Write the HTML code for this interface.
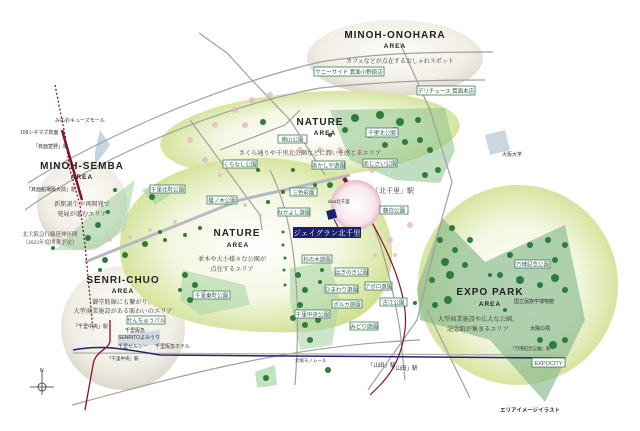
<!DOCTYPE html>
<html><head><meta charset="utf-8"><style>
html,body{margin:0;padding:0;background:#fff}
svg{display:block}
text{font-family:"Liberation Sans","Noto Sans CJK JP",sans-serif}
.s{font-family:"Liberation Serif","Noto Serif CJK SC","Noto Sans CJK JP",serif;fill:#3a3030}
.t{font-family:"Liberation Sans",sans-serif;font-weight:bold;fill:#222;letter-spacing:1px}
.lb rect{fill:#fff;stroke:#3c7a5a;stroke-width:0.8}
.lb text{font-size:5.5px;fill:#2d5a45;text-anchor:middle}
.tr{fill:#2f7a3c}
.pk{fill:#e8b8c4;opacity:.8}
.rd{fill:none;stroke:#a0a0a0;stroke-width:1.2}
</style></head><body>
<svg width="640" height="431" viewBox="0 0 640 431" xmlns="http://www.w3.org/2000/svg">
<defs>
<radialGradient id="gw" cx="50%" cy="40%" r="60%"><stop offset="0" stop-color="#fdfcf8"/><stop offset=".7" stop-color="#f1eee6"/><stop offset="1" stop-color="#ddd8cc"/></radialGradient>
<radialGradient id="gg" cx="50%" cy="50%" r="55%"><stop offset="0" stop-color="#ffffff"/><stop offset=".55" stop-color="#f3f7e2"/><stop offset="1" stop-color="#cfe08e"/></radialGradient>
<radialGradient id="gp" cx="50%" cy="50%" r="55%"><stop offset="0" stop-color="#fff"/><stop offset=".7" stop-color="#f8e6ec"/><stop offset="1" stop-color="#dca6b8"/></radialGradient>
</defs>

<ellipse cx="395" cy="58" rx="88" ry="38" fill="url(#gw)"/>
<ellipse cx="82" cy="205" rx="45" ry="45" fill="url(#gw)"/>
<ellipse cx="123" cy="328" rx="62" ry="62" fill="url(#gw)"/>
<ellipse cx="310" cy="135" rx="150" ry="43" transform="rotate(-4 310 135)" fill="url(#gg)"/>
<path d="M120,250 C118,190 180,160 250,158 C330,156 390,190 392,250 C394,300 360,330 300,332 C220,335 122,320 120,250Z" fill="url(#gg)"/>
<circle cx="518" cy="285" r="100" fill="url(#gg)"/>

<polygon points="330,110 445,108 455,150 440,183 395,180 350,160" fill="#8cc28a" opacity=".55"/>
<polygon points="442,218 485,262 565,225 585,320 545,402 490,340 420,320 417,288" fill="#86b98a" opacity=".65"/>
<polygon points="290,268 330,262 340,300 332,345 300,350 290,300" fill="#a9d5a6" opacity=".6"/>
<polygon points="183,270 245,285 250,305 200,315 180,300" fill="#a9d5a6" opacity=".6"/>
<polygon points="115,195 135,180 125,230 95,250 55,250 90,215" fill="#a9d5a6" opacity=".6"/>
<polygon points="142,190 158,183 170,195 155,205" fill="#a9d5a6" opacity=".7"/>
<polygon points="255,372 275,365 277,385 257,388" fill="#a9d5a6" opacity=".7"/>
<polygon points="95,152 100,130 110,145 95,165" fill="#b8c8d8" opacity=".8"/>
<polygon points="485,135 505,130 510,150 490,155" fill="#c0ccd8" opacity=".8"/>
<polygon points="118,335 160,330 160,345 118,345" fill="#c8d4e0" opacity=".8"/>

<path class="rd" d="M28,183 C80,150 200,90 320,62 C380,52 450,52 493,52"/>
<path class="rd" d="M25,210 C80,170 200,110 320,88 C400,80 450,80 485,80"/>
<path class="rd" d="M199,33 L227,53 L250,78 L290,120 L325,175"/>
<path class="rd" d="M400,43 L430,110 L452,182 L442,218 L417,320 L368,390"/>
<path class="rd" d="M427,310 L470,398"/>
<path class="rd" d="M190,120 L260,215 L262,230"/>
<path class="rd" d="M220,150 L285,125 L300,110"/>
<path class="rd" d="M72,405 C200,370 300,345 420,340"/>
<path class="rd" d="M270,170 C300,230 300,320 295,385"/>
<path class="rd" d="M355,185 C375,220 390,270 400,330 L405,380"/>
<path d="M85,262 L240,200 L350,175" stroke="#b8b8c4" stroke-width="3" fill="none"/>
<path d="M73,353 L565,355" stroke="#b0b0b0" stroke-width="1.2"/>
<path d="M73,350 C100,345 120,348 160,355 L565,358" stroke="#24246e" stroke-width="1.5" fill="none"/>
<path d="M55,85 L65,135 L70,170 L80,205 L85,245 L93,330" stroke="#8a1030" stroke-width="1.3" stroke-dasharray="2 2" fill="none"/>
<path d="M62,130 L82,200" stroke="#8a1030" stroke-width="2.5"/>
<path d="M110,320 L110,340 C110,350 95,350 93,365 L85,410" stroke="#8a1030" stroke-width="1.3" fill="none"/>
<path d="M345,180 C380,230 410,290 405,330 C400,370 380,385 370,395" stroke="#8a1030" stroke-width="1.2" fill="none"/>
<path d="M344,178 L354,195" stroke="#8a1030" stroke-width="4"/>

<circle cx="356" cy="205" r="25" fill="url(#gp)"/>

<g class="tr">
<circle cx="355" cy="118" r="4"/><circle cx="380" cy="115" r="4"/><circle cx="400" cy="122" r="4"/><circle cx="395" cy="130" r="3"/><circle cx="405" cy="142" r="3"/><circle cx="420" cy="140" r="3"/><circle cx="430" cy="150" r="3"/><circle cx="425" cy="175" r="3"/><circle cx="438" cy="170" r="3"/><circle cx="345" cy="130" r="3"/><circle cx="370" cy="135" r="3"/><circle cx="385" cy="145" r="3"/><circle cx="418" cy="120" r="3"/><circle cx="330" cy="135" r="2"/>
<circle cx="445" cy="262" r="4"/><circle cx="450" cy="275" r="4"/><circle cx="440" cy="240" r="3"/><circle cx="455" cy="250" r="3"/><circle cx="465" cy="265" r="3"/><circle cx="432" cy="280" r="3"/><circle cx="470" cy="240" r="3"/><circle cx="452" cy="228" r="3"/><circle cx="448" cy="300" r="4"/><circle cx="435" cy="305" r="3"/><circle cx="500" cy="275" r="3"/><circle cx="520" cy="280" r="4"/><circle cx="540" cy="285" r="3"/><circle cx="555" cy="278" r="4"/><circle cx="565" cy="290" r="3"/><circle cx="555" cy="260" r="3"/><circle cx="565" cy="245" r="3"/><circle cx="510" cy="255" r="3"/><circle cx="530" cy="245" r="3"/><circle cx="548" cy="240" r="3"/><circle cx="553" cy="345" r="4"/><circle cx="540" cy="340" r="3"/><circle cx="565" cy="340" r="3"/><circle cx="490" cy="275" r="2"/><circle cx="505" cy="310" r="2"/>
<circle cx="298" cy="275" r="3"/><circle cx="305" cy="290" r="3"/><circle cx="300" cy="305" r="3"/><circle cx="305" cy="325" r="3"/><circle cx="318" cy="320" r="3"/><circle cx="310" cy="340" r="3"/><circle cx="293" cy="318" r="3"/><circle cx="322" cy="270" r="2"/><circle cx="320" cy="282" r="2"/>
<circle cx="185" cy="275" r="3"/><circle cx="195" cy="285" r="3"/><circle cx="190" cy="300" r="3"/><circle cx="205" cy="293" r="3"/><circle cx="220" cy="296" r="3"/><circle cx="180" cy="290" r="2"/>
<circle cx="152" cy="197" r="3"/><circle cx="88" cy="238" r="3"/><circle cx="98" cy="225" r="3"/><circle cx="108" cy="212" r="2"/><circle cx="115" cy="190" r="2"/><circle cx="53" cy="248" r="2"/>
<circle cx="105" cy="260" r="3"/><circle cx="125" cy="255" r="3"/><circle cx="145" cy="244" r="3"/><circle cx="165" cy="240" r="2"/><circle cx="185" cy="235" r="2"/><circle cx="200" cy="228" r="2"/><circle cx="160" cy="232" r="2"/><circle cx="100" cy="270" r="2"/>
<circle cx="263" cy="122" r="3"/><circle cx="258" cy="170" r="2"/><circle cx="283" cy="192" r="2"/><circle cx="268" cy="202" r="2"/><circle cx="293" cy="170" r="2"/><circle cx="315" cy="185" r="2"/><circle cx="330" cy="185" r="3"/>
<circle cx="283" cy="232" r="1.5"/><circle cx="283" cy="245" r="1.5"/><circle cx="285" cy="258" r="1.5"/><circle cx="284" cy="270" r="1.5"/><circle cx="285" cy="285" r="1.5"/>
<circle cx="266" cy="378" r="3"/><circle cx="328" cy="370" r="3"/><circle cx="415" cy="303" r="2"/>
</g>
<g class="pk">
<circle cx="215" cy="125" r="3"/><circle cx="235" cy="110" r="3"/><circle cx="252" cy="100" r="3"/><circle cx="270" cy="95" r="3"/><circle cx="245" cy="125" r="3"/><circle cx="190" cy="140" r="3"/><circle cx="205" cy="160" r="3"/><circle cx="220" cy="175" r="2"/><circle cx="300" cy="150" r="3"/><circle cx="320" cy="150" r="3"/><circle cx="340" cy="150" r="3"/><circle cx="360" cy="150" r="3"/><circle cx="372" cy="170" r="3"/><circle cx="245" cy="205" r="2"/><circle cx="260" cy="215" r="2"/><circle cx="110" cy="240" r="2"/><circle cx="130" cy="237" r="2"/><circle cx="150" cy="230" r="2"/><circle cx="175" cy="222" r="2"/><circle cx="390" cy="240" r="3"/><circle cx="395" cy="255" r="2"/><circle cx="375" cy="255" r="2"/><circle cx="410" cy="225" r="3"/>
</g>

<text class="t" x="395" y="38" font-size="10" text-anchor="middle">MINOH-ONOHARA</text>
<text class="t" x="395" y="48" font-size="6.5" text-anchor="middle">AREA</text>
<text class="s" x="400" y="63" font-size="6" text-anchor="middle">カフェなどが点在するおしゃれスポット</text>
<text class="t" x="320" y="125" font-size="10" text-anchor="middle">NATURE</text>
<text class="t" x="325" y="135" font-size="6.5" text-anchor="middle">AREA</text>
<text class="s" x="310" y="155" font-size="6.2" text-anchor="middle">さくら通りや千里北公園などに潤いを感じるエリア</text>
<text class="t" x="237" y="236" font-size="10" text-anchor="middle">NATURE</text>
<text class="t" x="238" y="247" font-size="6.5" text-anchor="middle">AREA</text>
<text class="s" x="232" y="261" font-size="6.2" text-anchor="middle">並木や大小様々な公園が</text>
<text class="s" x="232" y="271" font-size="6.2" text-anchor="middle">点在するエリア</text>
<text class="t" x="82" y="169" font-size="10" text-anchor="middle">MINOH-SEMBA</text>
<text class="t" x="82" y="179" font-size="6.5" text-anchor="middle">AREA</text>
<text class="s" x="82" y="206" font-size="6.2" text-anchor="middle">新駅誕生や再開発で</text>
<text class="s" x="82" y="216" font-size="6.2" text-anchor="middle">発展が進むエリア</text>
<text class="s" x="50" y="236" font-size="5.5" text-anchor="middle">北大阪急行線延伸区間</text>
<text class="s" x="50" y="244" font-size="5.5" text-anchor="middle">（2023年度開業予定）</text>
<text class="t" x="123" y="283" font-size="10" text-anchor="middle">SENRI-CHUO</text>
<text class="t" x="123" y="293" font-size="6.5" text-anchor="middle">AREA</text>
<text class="s" x="123" y="304" font-size="6.2" text-anchor="middle">御堂筋線にも繋がり、</text>
<text class="s" x="123" y="313" font-size="6.2" text-anchor="middle">大型商業施設がある賑わいのエリア</text>
<text class="t" x="490" y="295" font-size="10" text-anchor="middle">EXPO PARK</text>
<text class="t" x="490" y="306" font-size="6.5" text-anchor="middle">AREA</text>
<text class="s" x="478" y="321" font-size="6.2" text-anchor="middle">大型商業施設や広大な公園、</text>
<text class="s" x="478" y="331" font-size="6.2" text-anchor="middle">記念館が集まるエリア</text>

<g font-size="5" fill="#333">
<text x="55" y="122">みのおキューズモール</text>
<text x="20" y="134">109シネマズ箕面</text>
<text x="33" y="148">「箕面萱野」駅</text>
<text x="26" y="191">「箕面船場阪大前」駅</text>
<text x="502" y="156">大阪大学</text>
<text x="372" y="193" font-size="7" class="s">「北千里」駅</text>
<text x="328" y="203" font-size="4.5">dios北千里</text>
<text x="514" y="303">国立民族学博物館</text>
<text x="530" y="330">太陽の塔</text>
<text x="510" y="350" font-size="4.5">「万博記念公園」駅</text>
<text x="368" y="367" font-size="5.5">「山田」駅</text>
<text x="390" y="370" font-size="5.5">「山田」駅</text>
<text x="295" y="362" font-size="4.5">大阪モノレール</text>
<text x="73" y="328">「千里中央」駅</text>
<text x="125" y="332">千里阪急</text>
<text x="118" y="339">SENRITOよみうり</text>
<text x="118" y="348">千里セルシー</text>
<text x="155" y="348">千里阪急ホテル</text>
<text x="107" y="360" font-size="4.5">「千里中央」駅</text>
<text x="500" y="412" font-size="5.5" font-weight="bold">エリアイメージイラスト</text>
</g>

<g class="lb">
<rect x="314" y="67" width="70" height="9"/><text x="349" y="74">サニーサイド 箕面小野原店</text>
<rect x="417" y="86" width="58" height="9"/><text x="446" y="93">デリチュース 箕面本店</text>
<rect x="366" y="128" width="32" height="9"/><text x="382" y="135">千里北公園</text>
<rect x="363" y="159" width="34" height="8"/><text x="380" y="165.5">あじさい公園</text>
<rect x="278" y="135" width="29" height="8"/><text x="292.5" y="141.5">南山公園</text>
<rect x="223" y="160" width="34" height="8"/><text x="240" y="166.5">くちなし公園</text>
<rect x="312" y="161" width="33" height="8"/><text x="328.5" y="167.5">あかしや遊園</text>
<rect x="290" y="188" width="27" height="8"/><text x="303.5" y="194.5">三色彩園</text>
<rect x="207" y="196" width="30" height="8"/><text x="222" y="202.5">榎ノ木公園</text>
<rect x="278" y="208" width="32" height="8"/><text x="294" y="214.5">なかよし遊園</text>
<rect x="380" y="206" width="28" height="8"/><text x="394" y="212.5">藤白公園</text>
<rect x="150" y="185" width="35" height="8"/><text x="167.5" y="191.5">千里北町公園</text>
<rect x="302" y="255" width="30" height="8"/><text x="317" y="261.5">杉の木遊園</text>
<rect x="335" y="268" width="33" height="8"/><text x="351.5" y="274.5">はぎのき公園</text>
<rect x="325" y="285" width="33" height="8"/><text x="341.5" y="291.5">ひまわり遊園</text>
<rect x="365" y="282" width="27" height="8"/><text x="378.5" y="288.5">アポロ遊園</text>
<rect x="380" y="298" width="27" height="8"/><text x="393.5" y="304.5">古江公園</text>
<rect x="332" y="300" width="30" height="8"/><text x="347" y="306.5">ポルカ遊園</text>
<rect x="295" y="310" width="35" height="8"/><text x="312.5" y="316.5">千里中央公園</text>
<rect x="350" y="322" width="28" height="8"/><text x="364" y="328.5">みどり遊園</text>
<rect x="193" y="291" width="37" height="8"/><text x="211.5" y="297.5">千里東町公園</text>
<rect x="127" y="316" width="38" height="8"/><text x="146" y="322.5">せんちゅうパル</text>
<rect x="515" y="260" width="35" height="8"/><text x="532.5" y="266.5">万博記念公園</text>
<rect x="532" y="358" width="33" height="9"/><text x="548.5" y="365" font-size="6">EXPOCITY</text>
</g>

<rect x="327" y="210" width="9" height="9" fill="#1b1f6e" transform="rotate(-15 331 214)"/>
<line x1="334" y1="219" x2="338" y2="227" stroke="#1b1f6e" stroke-width="1"/>
<rect x="293" y="227" width="68" height="11" fill="#1b1f6e"/>
<text x="327" y="235.5" font-size="7.5" text-anchor="middle" class="s" style="fill:#fff">ジェイグラン北千里</text>

<g stroke="#333" stroke-width="0.8" fill="none">
<line x1="42" y1="370" x2="42" y2="395"/><line x1="30" y1="387" x2="54" y2="387"/><circle cx="42" cy="387" r="4"/>
</g>
<text x="40" y="372" font-size="5" fill="#333">N</text>
</svg>
</body></html>
